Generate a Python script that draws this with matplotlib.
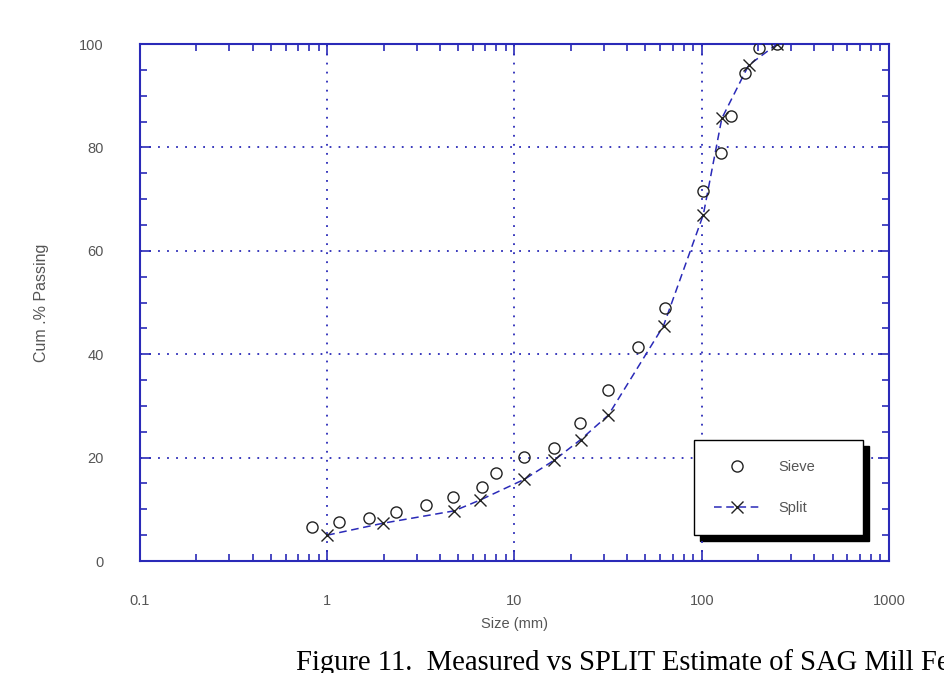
import matplotlib
matplotlib.use('Agg')
import matplotlib.pyplot as plt
from matplotlib.ticker import FixedLocator, LogLocator, MultipleLocator, FuncFormatter
from matplotlib.patches import Rectangle

# Sieve (measured) data
sieve_size = [0.83, 1.15, 1.68, 2.34, 3.35, 4.72, 6.7, 8.0, 11.2, 16.3, 22.4, 31.7,
              45.8, 64, 101, 127, 144, 170, 202, 253]
sieve_pass = [6.6, 7.6, 8.4, 9.4, 10.8, 12.3, 14.3, 17.0, 20.1, 21.8, 26.6, 33.1,
              41.4, 48.9, 71.6, 79.0, 86.1, 94.4, 99.2, 100.0]

# Split (image analysis) data
split_size = [1.0, 1.98, 4.76, 6.56, 11.3, 16.3, 22.6, 31.7, 62.5, 102, 128, 178, 253]
split_pass = [5.0, 7.3, 9.7, 11.8, 15.8, 19.5, 23.5, 28.2, 45.5, 67.0, 85.6, 95.9, 100.0]

x_ticks = [0.1, 1, 10, 100, 1000]
y_ticks = [0, 20, 40, 60, 80, 100]

BLUE = '#2a2ab8'
GREY = '#555555'


def main():
    plt.rcParams['font.family'] = ['Liberation Sans', 'DejaVu Sans']
    fig = plt.figure(figsize=(9.44, 6.73), dpi=100)
    ax = fig.add_axes([0.1483, 0.1664, 0.7934, 0.7682])

    # split line + markers
    ax.plot(split_size, split_pass, color=BLUE, lw=1.1, ls=(0, (5, 3)), zorder=3)
    ax.plot(split_size, split_pass, ls='none', marker='x', ms=9, mew=1.0,
            color='#222222', zorder=4)
    ax.plot(sieve_size, sieve_pass, ls='none', marker='o', ms=8, mfc='none',
            mec='#222222', mew=1.0, zorder=4)

    ax.set_xscale('log')
    ax.set_xlim(0.1, 1000)
    ax.set_ylim(0, 100)
    ax.xaxis.set_major_locator(FixedLocator(x_ticks))
    ax.xaxis.set_major_formatter(FuncFormatter(lambda v, p: '%g' % v))
    ax.xaxis.set_minor_locator(LogLocator(base=10, subs=range(2, 10)))
    ax.yaxis.set_major_locator(FixedLocator(y_ticks))
    ax.yaxis.set_minor_locator(MultipleLocator(5))

    for s in ax.spines.values():
        s.set_color(BLUE)
        s.set_linewidth(1.5)
    ax.tick_params(which='both', direction='in', top=True, right=True, color=BLUE,
                   labelcolor=GREY, labelsize=10.5)
    ax.tick_params(which='major', length=8, width=1.2)
    ax.tick_params(which='minor', length=5, width=1.2)
    ax.tick_params(axis='x', which='major', pad=24)
    ax.tick_params(axis='y', which='major', pad=26)

    ax.grid(True, which='major', color=BLUE, ls=(0, (1, 4)), lw=1.3)

    ax.set_xlabel('Size (mm)', color=GREY, fontsize=10.5, labelpad=6)
    ax.set_ylabel('Cum .% Passing', color=GREY, fontsize=11.5, labelpad=22)

    # legend with a heavy drop shadow
    h1, = ax.plot([], [], ls='none', marker='o', ms=8, mfc='none', mec='#222222')
    h2, = ax.plot([], [], color=BLUE, ls=(0, (5, 3)), lw=1.1, marker='x', ms=9,
                  mec='#222222')
    leg = ax.legend([h1, h2], ['Sieve', 'Split'], loc='lower left',
                    bbox_to_anchor=(0.7397, 0.05, 0.225, 0.19), mode='expand',
                    fancybox=False, framealpha=1, edgecolor='black',
                    fontsize=10.5, labelspacing=1.9, borderpad=1.35,
                    handlelength=3.2, handletextpad=1.2, borderaxespad=0)
    leg.get_frame().set_linewidth(1.0)
    for t in leg.get_texts():
        t.set_color(GREY)
    leg.set_zorder(6)

    fig.canvas.draw()
    bb = leg.get_window_extent()
    W, H = fig.bbox.width, fig.bbox.height
    off = 6
    fig.patches.append(Rectangle(((bb.x0 + off) / W, (bb.y0 - off) / H),
                                 bb.width / W, bb.height / H,
                                 transform=fig.transFigure, color='black',
                                 zorder=1))
    ax.set_zorder(2)
    ax.patch.set_alpha(0)

    # figure caption, cropped by the page edge as in the source
    fig.text(0.3136, 0.004, 'Figure 11.  Measured vs SPLIT Estimate of SAG Mill Feed',
             family='Liberation Serif', fontsize=20.6, color='black', va='baseline')

    fig.savefig('out.png', dpi=100)


if __name__ == '__main__':
    main()
